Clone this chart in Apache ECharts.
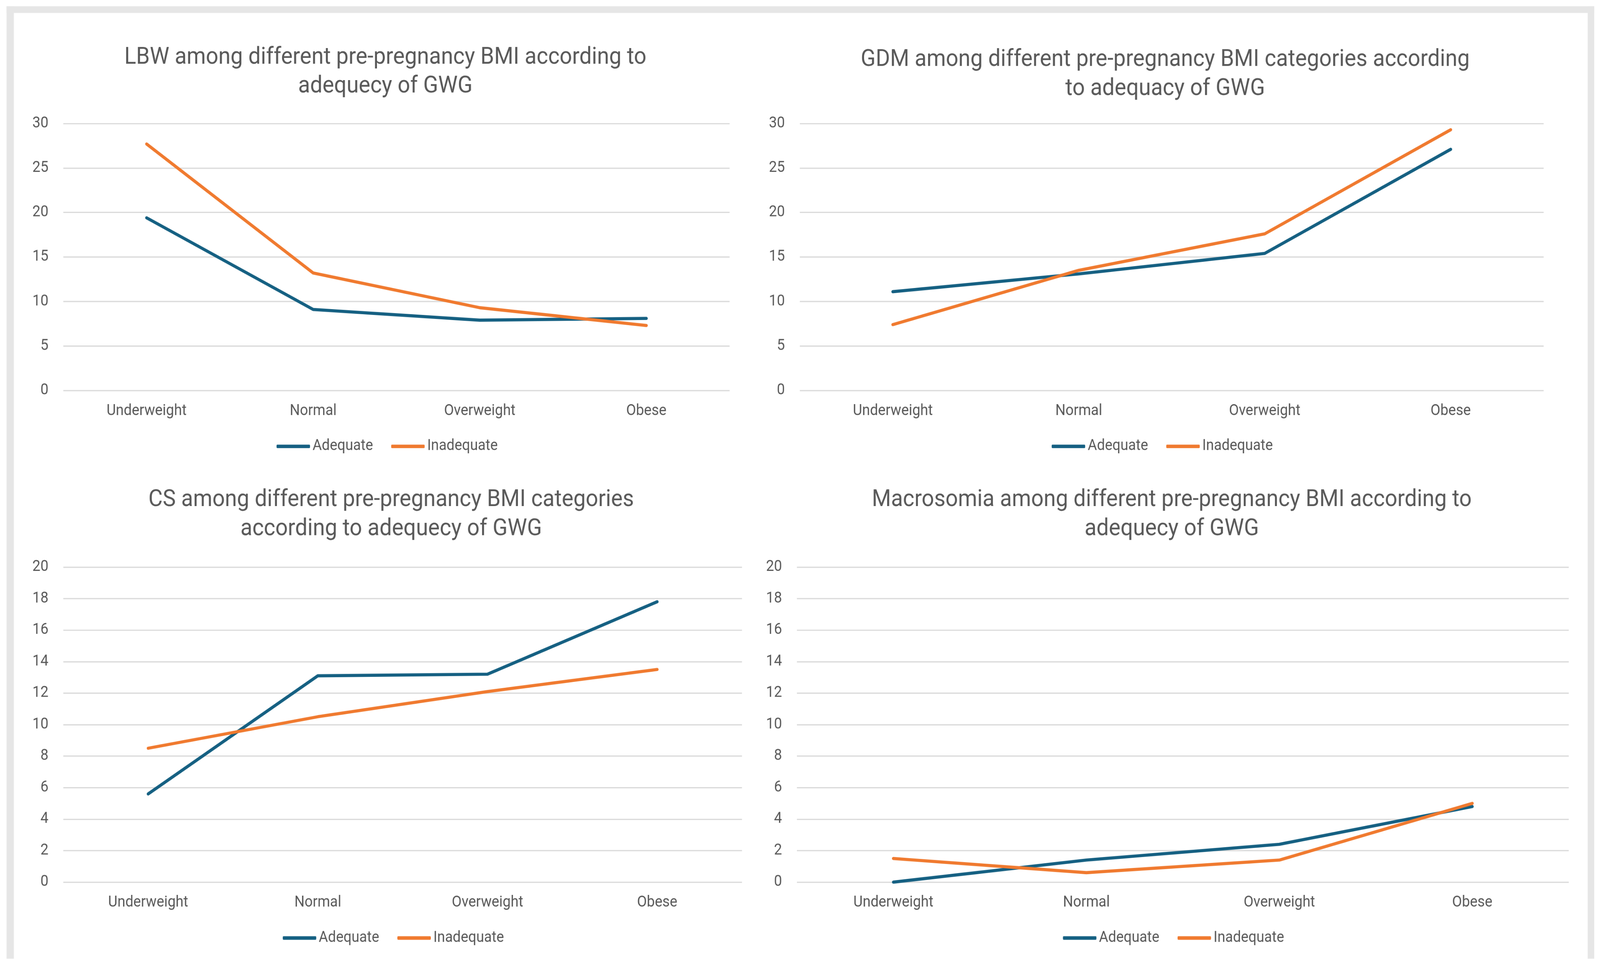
<!DOCTYPE html>
<html><head><meta charset="utf-8">
<script src="https://cdn.jsdelivr.net/npm/echarts@6/dist/echarts.min.js"></script>
<style>html,body{margin:0;padding:0;background:#fff;overflow:hidden}#c{width:4397px;height:2495px;transform-origin:0 0}</style>
</head><body><div id="c"></div>
<script>
// ---- data ----
const categories = ['Underweight', 'Normal', 'Overweight', 'Obese'];
const seriesNames = ['Adequate', 'Inadequate'];
const lbwAdequate = [19.4, 9.1, 7.9, 8.1];
const lbwInadequate = [27.7, 13.2, 9.3, 7.3];
const gdmAdequate = [11.1, 13.1, 15.4, 27.1];
const gdmInadequate = [7.4, 13.5, 17.6, 29.3];
const csAdequate = [5.6, 13.1, 13.2, 17.8];
const csInadequate = [8.5, 10.5, 12.1, 13.5];
const macroAdequate = [0, 1.4, 2.4, 4.8];
const macroInadequate = [1.5, 0.6, 1.4, 5.0];
const yTicksTop = [0, 5, 10, 15, 20, 25, 30];
const yTicksBottom = [0, 2, 4, 6, 8, 10, 12, 14, 16, 18, 20];
const chartTitles = [
  'LBW among different pre-pregnancy BMI according to\nadequecy of GWG',
  'GDM among different pre-pregnancy BMI categories according\nto adequacy of GWG',
  'CS among different pre-pregnancy BMI categories\naccording to adequecy of GWG',
  'Macrosomia among different pre-pregnancy BMI according to\nadequecy of GWG'
];

// ---- fit the 4397x2495 drawing into the actual viewport ----
const W = 4397, H = 2495;
const box = document.getElementById('c');
const sx = (window.innerWidth || W) / W, sy = (window.innerHeight || H) / H;
box.style.transform = 'scale(' + sx + ',' + sy + ')';

// ---- style / layout ----
const FONT = 'Roboto';
const TXT = '#595959';
const C_ADQ = '#156082';
const C_INADQ = '#F07A2F';
function measure(text, size) {
  const cv = document.createElement('canvas').getContext('2d');
  cv.font = size + 'px ' + FONT;
  return cv.measureText(text).width;
}
function fit(text, target) { return Math.round(100 * target / measure(text, 100) * 10) / 10; }
const titleSize = fit('LBW among different pre-pregnancy BMI according to', 1436);
const axisSize = fit('Underweight', 220);
const legendSize = fit('Adequate', 166);

const panels = [
  {grid: {left: 174, right: W - 2005, top: 316, bottom: H - 999}, ticks: yTicksTop,
   data: [lbwAdequate, lbwInadequate], titleX: 1059, titleY: 111, legendX: 760, legendY: 1142},
  {grid: {left: 2198, right: W - 4242, top: 316, bottom: H - 999}, ticks: yTicksTop,
   data: [gdmAdequate, gdmInadequate], titleX: 3202, titleY: 117, legendX: 2890, legendY: 1142},
  {grid: {left: 174, right: W - 2039, top: 1451, bottom: H - 2257}, ticks: yTicksBottom,
   data: [csAdequate, csInadequate], titleX: 1075, titleY: 1243, legendX: 777, legendY: 2400},
  {grid: {left: 2190, right: W - 4311, top: 1451, bottom: H - 2257}, ticks: yTicksBottom,
   data: [macroAdequate, macroInadequate], titleX: 3220, titleY: 1243, legendX: 2921, legendY: 2400}
];

const option = {
  backgroundColor: '#ffffff',
  animation: false,
  title: panels.map((p, i) => ({
    text: chartTitles[i], left: p.titleX, top: p.titleY, padding: 0,
    textAlign: 'center', textVerticalAlign: 'top',
    textStyle: {fontFamily: FONT, fontSize: titleSize, fontWeight: 'normal', color: TXT, lineHeight: 74}
  })),
  legend: panels.map(p => ({
    data: seriesNames, left: p.legendX, top: p.legendY - legendSize / 2, padding: 0,
    orient: 'horizontal', itemGap: 50, itemWidth: 92, itemHeight: 9, icon: 'roundRect',
    selectedMode: false,
    textStyle: {fontFamily: FONT, fontSize: legendSize, color: TXT, lineHeight: legendSize, padding: [0, 0, 0, 2]}
  })),
  grid: panels.map(p => Object.assign({outerBoundsMode: 'none', containLabel: false}, p.grid)),
  xAxis: panels.map((p, i) => ({
    type: 'category', gridIndex: i, data: categories, boundaryGap: true,
    axisLine: {show: false}, axisTick: {show: false},
    axisLabel: {fontFamily: FONT, fontSize: axisSize, color: TXT, margin: 53 - axisSize / 2, lineHeight: axisSize}
  })),
  yAxis: panels.map((p, i) => ({
    type: 'value', gridIndex: i, min: p.ticks[0], max: p.ticks[p.ticks.length - 1],
    interval: p.ticks[1] - p.ticks[0],
    axisLine: {show: false}, axisTick: {show: false},
    axisLabel: {fontFamily: FONT, fontSize: axisSize, color: TXT, margin: 41},
    splitLine: {show: true, lineStyle: {color: '#d9d9d9', width: 3}}
  })),
  series: panels.flatMap((p, i) => seriesNames.map((n, k) => ({
    name: n, type: 'line', xAxisIndex: i, yAxisIndex: i, data: p.data[k],
    symbol: 'none', showSymbol: false, smooth: false,
    itemStyle: {color: k === 0 ? C_ADQ : C_INADQ},
    lineStyle: {color: k === 0 ? C_ADQ : C_INADQ, width: 8, cap: 'round', join: 'round'}
  }))),
  graphic: [
    {type: 'rect', shape: {x: 18, y: 16, width: 4363, height: 17}, style: {fill: '#e6e6e6'}, silent: true},
    {type: 'rect', shape: {x: 18, y: 16, width: 20, height: 2437}, style: {fill: '#e6e6e6'}, silent: true},
    {type: 'rect', shape: {x: 4363, y: 16, width: 18, height: 2437}, style: {fill: '#e6e6e6'}, silent: true}
  ]
};
const chart = echarts.init(box, null, {renderer: 'canvas', devicePixelRatio: Math.max(1, (window.devicePixelRatio || 1) / Math.min(sx, sy))});
chart.setOption(option);
</script>
</body></html>
